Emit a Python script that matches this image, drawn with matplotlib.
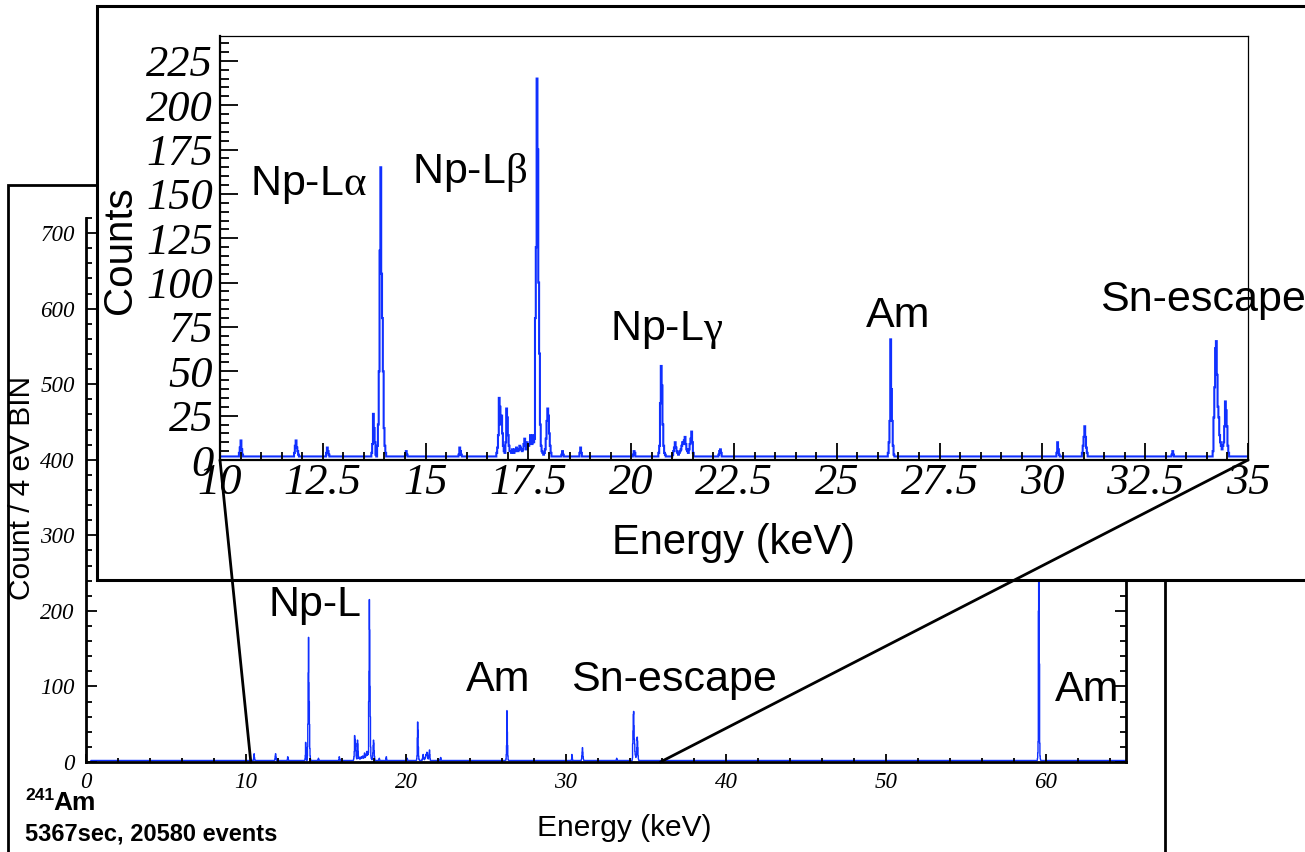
import numpy as np
import matplotlib
matplotlib.use("Agg")
import matplotlib.pyplot as plt
from matplotlib.patches import Rectangle, ConnectionPatch
from matplotlib.ticker import MultipleLocator, FuncFormatter

# ---- spectrum data (counts per bin, 20 eV display bins) ----
BIN_KEV = 0.02
baseline_counts = 2
spectrum_lo_kev, spectrum_hi_kev = 0.3, 65.0

peak_start_kev = [10.46, 11.80, 12.58, 13.68, 14.50, 15.80, 16.72, 17.06,
                  17.58, 18.30, 18.74, 20.04, 20.66, 21.00, 22.12, 26.24,
                  30.34, 30.96, 33.14, 34.14, 59.46]
peak_counts = [
    [4, 7, 11, 6, 3],
    [4, 8, 11, 7, 5, 3],
    [4, 7, 5, 3],
    [4, 9, 26, 18, 10, 3, 2, 8, 20, 50, 118, 165, 105, 80, 50, 18, 8, 4],
    [3, 5, 3],
    [3, 7, 5, 3],
    [4, 7, 14, 35, 30, 20, 25, 15, 8, 5, 4, 10, 29, 24, 14, 8, 5],
    [5, 4, 6, 5, 4, 6, 5, 7, 6, 5, 6, 8, 7, 6, 5, 6, 9, 12, 8, 6, 10, 9, 8, 9, 14, 10],
    [9, 14, 10, 12, 80, 120, 215, 175, 100, 60, 20, 8, 5, 4, 3, 4, 6, 12, 22, 29, 25, 15, 8, 4],
    [3, 5, 3],
    [4, 7, 4],
    [3, 5, 4],
    [4, 8, 32, 53, 42, 20, 8, 4, 3],
    [3, 5, 7, 10, 7, 5, 4, 3, 4, 5, 6, 8, 10, 9, 11, 13, 9, 6, 5, 4, 6, 9, 12, 16, 10, 4],
    [3, 5, 6, 4],
    [4, 10, 22, 68, 40, 22, 8, 3],
    [4, 10, 6, 3],
    [4, 8, 13, 19, 13, 7, 4],
    [3, 5, 3],
    [5, 24, 41, 63, 67, 48, 30, 24, 14, 10, 8, 6, 8, 10, 19, 33, 28, 19, 8, 4],
    [5, 12, 27, 200, 690, 480, 130, 25, 8, 4],
]

main_labels = ["Np-L", "Am", "Sn-escape", "Am"]
inset_labels = ["Np-L$\\mathrm{\u03b1}$", "Np-L$\\mathrm{\u03b2}$",
                "Np-L$\\mathrm{\u03b3}$", "Am", "Sn-escape"]
source_name = "Am"
source_mass = "241"
run_info = "5367sec, 20580 events"

# ---- build the histogram ----
edges = np.arange(0.0, spectrum_hi_kev + BIN_KEV / 2, BIN_KEV)
counts = np.zeros(len(edges) - 1)
counts[int(round(spectrum_lo_kev / BIN_KEV)):] = baseline_counts
for start, vals in zip(peak_start_kev, peak_counts):
    i = int(round(start / BIN_KEV))
    counts[i:i + len(vals)] = vals

# ---- styling ----
plt.rcParams["font.family"] = "Liberation Serif"
plt.rcParams["font.style"] = "italic"
plt.rcParams["mathtext.fontset"] = "custom"
plt.rcParams["mathtext.rm"] = "Liberation Serif:style=normal"
plt.rcParams["mathtext.it"] = "Liberation Serif:style=normal"
BLUE = "#1030ff"
SANS = dict(fontfamily="Liberation Sans", fontstyle="normal", color="black")

W, H = 1305, 852
fig = plt.figure(figsize=(W / 100, H / 100), dpi=100)


def fx(x):
    return x / W


def fy(y):
    return 1 - y / H


# ---- main pad ----
fig.add_artist(Rectangle((fx(8), fy(900)), (1165 - 8) / W, (900 - 185) / H,
                         transform=fig.transFigure, fill=False, ec="black",
                         lw=2, zorder=0.5))

ax = fig.add_axes([fx(86), fy(762), (1126 - 86) / W, (762 - 218) / H], zorder=1)
ax.patch.set_alpha(0)
ax.stairs(counts, edges, color=BLUE, lw=1.0)
ax.set_xlim(0, 65)
ax.set_ylim(0, 720)
ax.xaxis.set_major_locator(MultipleLocator(10))
ax.xaxis.set_minor_locator(MultipleLocator(2))
ax.yaxis.set_major_locator(MultipleLocator(100))
ax.yaxis.set_minor_locator(MultipleLocator(20))
ax.tick_params(which="both", direction="in", left=True, right=True,
               bottom=True, top=False, labelsize=16.5, color="black", width=1.3)
ax.tick_params(axis="y", which="major", length=8, pad=8)
ax.tick_params(axis="y", which="minor", length=4.3)
ax.tick_params(axis="x", which="major", length=6, pad=7)
ax.tick_params(axis="x", which="minor", length=3)
for s in ("left", "bottom", "right"):
    ax.spines[s].set_linewidth(2)
ax.spines["top"].set_visible(False)

ax.text(14.3, 208, main_labels[0], ha="center", va="center", fontsize=31, **SANS)
ax.text(25.75, 108, main_labels[1], ha="center", va="center", fontsize=31, **SANS)
ax.text(36.75, 108, main_labels[2], ha="center", va="center", fontsize=31, **SANS)
ax.text(62.6, 95, main_labels[3], ha="center", va="center", fontsize=31, **SANS)

fig.text(fx(624), fy(828), "Energy (keV)", ha="center", va="center",
         fontsize=21.5, **SANS)
fig.text(fx(22), fy(488), "Count / 4 eV BIN", ha="center", va="center",
         rotation=90, fontsize=21.5, **SANS)
fig.text(fx(25), fy(796), source_mass, ha="left", va="center", fontsize=12.5,
         fontweight="bold", **SANS)
fig.text(fx(53), fy(803), source_name, ha="left", va="center", fontsize=19,
         fontweight="bold", **SANS)
fig.text(fx(25), fy(834), run_info, ha="left", va="center", fontsize=17,
         fontweight="bold", **SANS)

# ---- zoomed pad ----
fig.add_artist(Rectangle((fx(97), fy(580)), (1400 - 97) / W, (580 - 6) / H,
                         transform=fig.transFigure, fc="white", ec="black",
                         lw=2.2, zorder=2))

axi = fig.add_axes([fx(220), fy(460), (1248 - 220) / W, (460 - 36) / H], zorder=3)
axi.patch.set_alpha(0)
axi.stairs(counts, edges, color=BLUE, lw=1.5)
axi.set_xlim(10, 35)
axi.set_ylim(0, 239)
axi.xaxis.set_major_locator(MultipleLocator(2.5))
axi.xaxis.set_minor_locator(MultipleLocator(0.5))
axi.yaxis.set_major_locator(MultipleLocator(25))
axi.yaxis.set_minor_locator(MultipleLocator(5))
axi.xaxis.set_major_formatter(FuncFormatter(lambda v, p: f"{v:g}"))
axi.tick_params(which="both", direction="in", left=True, right=False,
                bottom=True, top=False, labelsize=32, color="black", width=1.3)
axi.tick_params(axis="y", which="major", length=13, pad=5)
axi.tick_params(axis="y", which="minor", length=6.5)
axi.tick_params(axis="x", which="major", length=12.5, pad=2)
axi.tick_params(axis="x", which="minor", length=6)
axi.spines["left"].set_linewidth(1.6)
axi.spines["bottom"].set_linewidth(1.6)
axi.spines["top"].set_linewidth(0.9)
axi.spines["right"].set_linewidth(0.9)

axi.text(12.16, 155, inset_labels[0], ha="center", va="center", fontsize=31, **SANS)
axi.text(16.08, 162, inset_labels[1], ha="center", va="center", fontsize=31, **SANS)
axi.text(20.85, 73, inset_labels[2], ha="center", va="center", fontsize=31, **SANS)
axi.text(26.49, 81, inset_labels[3], ha="center", va="center", fontsize=31, **SANS)
axi.text(33.9, 90, inset_labels[4], ha="center", va="center", fontsize=31, **SANS)

fig.text(fx(733), fy(543), "Energy (keV)", ha="center", va="center",
         fontsize=30, zorder=4, **SANS)
fig.text(fx(120), fy(250), "Counts", ha="center", va="center", rotation=90,
         fontsize=29, zorder=4, **SANS)

# ---- lines linking the zoomed range to the full spectrum ----
for (xa, xb) in [(10.0, 10.3), (35.0, 35.9)]:
    con = ConnectionPatch(xyA=(xa, 0), coordsA=axi.transData,
                          xyB=(xb, 0), coordsB=ax.transData,
                          color="black", lw=2, zorder=5)
    fig.add_artist(con)

fig.savefig("out.png", dpi=100)
